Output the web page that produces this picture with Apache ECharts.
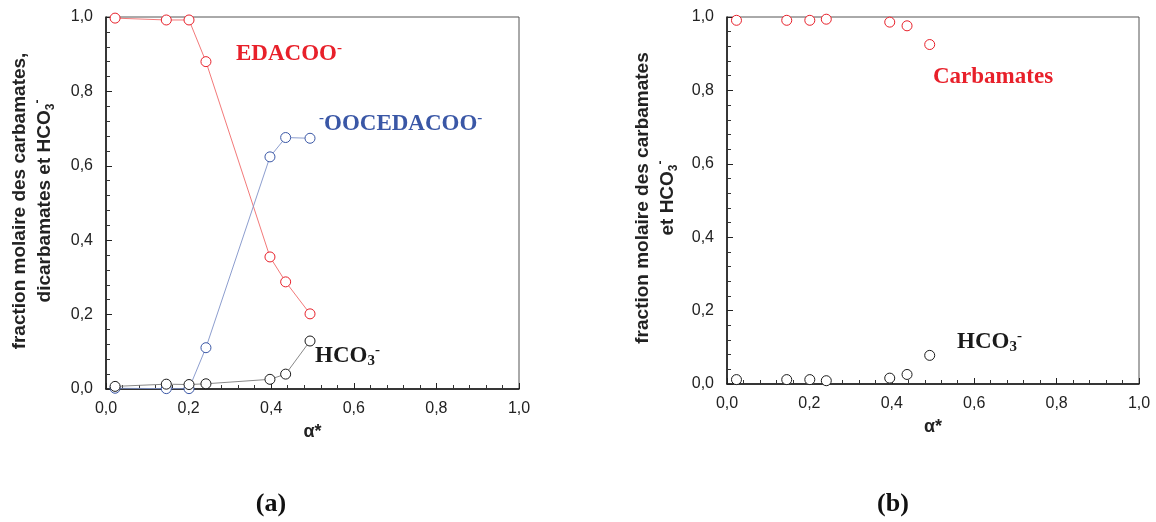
<!DOCTYPE html>
<html>
<head>
<meta charset="utf-8">
<script src="https://cdn.jsdelivr.net/npm/echarts@6/dist/echarts.min.js"></script>
<style>
html,body{margin:0;padding:0;background:#fff;}
#c{width:1156px;height:522px;}
</style>
</head>
<body>
<div id="c"></div>
<script>
// ---- data ----
var alphaA = [0.022, 0.146, 0.201, 0.242, 0.397, 0.435, 0.494];
var edacoo = [0.997, 0.992, 0.992, 0.880, 0.355, 0.288, 0.202];
var ooceda = [0.002, 0.001, 0.001, 0.111, 0.624, 0.676, 0.674];
var hco3A  = [0.007, 0.013, 0.012, 0.014, 0.026, 0.040, 0.129];

var alphaB = [0.023, 0.145, 0.201, 0.241, 0.395, 0.437, 0.492];
var carbB  = [0.991, 0.991, 0.991, 0.994, 0.986, 0.976, 0.925];
var hco3B  = [0.012, 0.012, 0.012, 0.009, 0.016, 0.026, 0.078];

var xTicks = [0, 0.2, 0.4, 0.6, 0.8, 1.0];

function pairs(xs, ys){ return xs.map(function(x,i){ return [x, ys[i]]; }); }
function fmt(v){ return v.toFixed(1).replace('.', ','); }

var RED = '#e8202a', BLUE = '#3a57a6', BLK = '#1a1a1a';
var sans = '"Liberation Sans", Arial, sans-serif';
var serif = '"Liberation Serif", "Times New Roman", serif';

function xAxis(gi){
  return {
    type:'value', gridIndex:gi, min:0, max:1, interval:0.2,
    name:'α*', nameLocation:'middle', nameGap:34,
    nameTextStyle:{fontFamily:sans, fontWeight:'bold', fontSize:18, color:'#222'},
    axisLine:{show:true, onZero:false, lineStyle:{color:'#111', width:1.5}},
    axisTick:{show:true, inside:true, length:6, lineStyle:{color:'#222'}},
    minorTick:{show:true, splitNumber:5, length:4, lineStyle:{color:'#333'}},
    splitLine:{show:false},
    axisLabel:{formatter:fmt, fontFamily:sans, fontSize:16, color:'#222', margin:12, showMinLabel:true, showMaxLabel:true}
  };
}
function yAxis(gi){
  return {
    type:'value', gridIndex:gi, min:0, max:1, interval:0.2,
    axisLine:{show:true, onZero:false, lineStyle:{color:'#111', width:1.5}},
    axisTick:{show:true, inside:true, length:6, lineStyle:{color:'#222'}},
    minorTick:{show:true, splitNumber:5, length:4, lineStyle:{color:'#333'}},
    splitLine:{show:false},
    axisLabel:{formatter:fmt, fontFamily:sans, fontSize:16, color:'#222', margin:13}
  };
}

function lineSeries(name, xs, ys, col, lineCol){
  return {
    name:name, type:'line', xAxisIndex:0, yAxisIndex:0,
    data:pairs(xs, ys), symbol:'circle', symbolSize:10, showAllSymbol:true,
    itemStyle:{color:'#fff', borderColor:col, borderWidth:1},
    lineStyle:{color:lineCol, width:0.9}
  };
}
function scatterSeries(name, xs, ys, col){
  return {
    name:name, type:'scatter', xAxisIndex:1, yAxisIndex:1,
    data:pairs(xs, ys), symbol:'circle', symbolSize:10,
    itemStyle:{color:'#fff', borderColor:col, borderWidth:1, opacity:1}
  };
}

var subRich = {
  m:{fontFamily:serif, fontWeight:'bold', fontSize:23, lineHeight:26, verticalAlign:'middle'},
  s:{fontFamily:serif, fontWeight:'bold', fontSize:15, lineHeight:15, verticalAlign:'bottom'},
  p:{fontFamily:serif, fontWeight:'bold', fontSize:15, lineHeight:13, verticalAlign:'top'}
};
function rich(col){
  var r = {};
  for (var k in subRich){ r[k] = Object.assign({}, subRich[k], {fill:col, color:col}); }
  return r;
}
function label(x, y, text, col){
  return {type:'text', x:x, y:y, z:100,
    style:{text:text, rich:rich(col), fill:col, align:'left', verticalAlign:'middle'}};
}

var titleRich = {
  t:{fontFamily:sans, fontWeight:'bold', fontSize:19, lineHeight:25, fill:'#222', color:'#222'},
  s:{fontFamily:sans, fontWeight:'bold', fontSize:12, lineHeight:12, verticalAlign:'bottom', fill:'#222', color:'#222'},
  p:{fontFamily:sans, fontWeight:'bold', fontSize:12, lineHeight:10, verticalAlign:'top', fill:'#222', color:'#222'}
};
function ytitle(x, y, text){
  return {type:'text', x:x, y:y, rotation:Math.PI/2, z:100,
    style:{text:text, rich:titleRich, align:'center', verticalAlign:'middle', fill:'#222'}};
}

var chart = echarts.init(document.getElementById('c'));
chart.setOption({
  animation:false,
  backgroundColor:'#fff',
  grid:[
    {left:106, top:17, width:413, height:372, show:true, borderColor:'#555', borderWidth:1},
    {left:727, top:17, width:412, height:367, show:true, borderColor:'#555', borderWidth:1}
  ],
  xAxis:[xAxis(0), xAxis(1)],
  yAxis:[yAxis(0), yAxis(1)],
  series:[
    lineSeries('EDACOO-', alphaA, edacoo, RED, '#f06a6a'),
    lineSeries('-OOCEDACOO-', alphaA, ooceda, BLUE, '#7f92c8'),
    lineSeries('HCO3- (a)', alphaA, hco3A, BLK, '#7a7a7a'),
    scatterSeries('Carbamates', alphaB, carbB, RED),
    scatterSeries('HCO3- (b)', alphaB, hco3B, BLK)
  ],
  graphic:[
    label(236, 54, '{m|EDACOO}{p|-}', RED),
    label(319, 124, '{p|-}{m|OOCEDACOO}{p|-}', BLUE),
    label(315, 356, '{m|HCO}{s|3}{p|-}', BLK),
    label(933, 77, '{m|Carbamates}', RED),
    label(957, 342, '{m|HCO}{s|3}{p|-}', BLK),
    ytitle(32, 201, '{t|fraction molaire des carbamates,}\n{t|dicarbamates et HCO}{s|3}{p|-}'),
    ytitle(655, 198, '{t|fraction molaire des carbamates}\n{t|et HCO}{s|3}{p|-}'),
    {type:'text', x:271, y:504, style:{text:'(a)', font:'bold 26px "Liberation Serif", serif', fill:'#111', align:'center', verticalAlign:'middle'}},
    {type:'text', x:893, y:504, style:{text:'(b)', font:'bold 26px "Liberation Serif", serif', fill:'#111', align:'center', verticalAlign:'middle'}}
  ]
});
</script>
</body>
</html>
